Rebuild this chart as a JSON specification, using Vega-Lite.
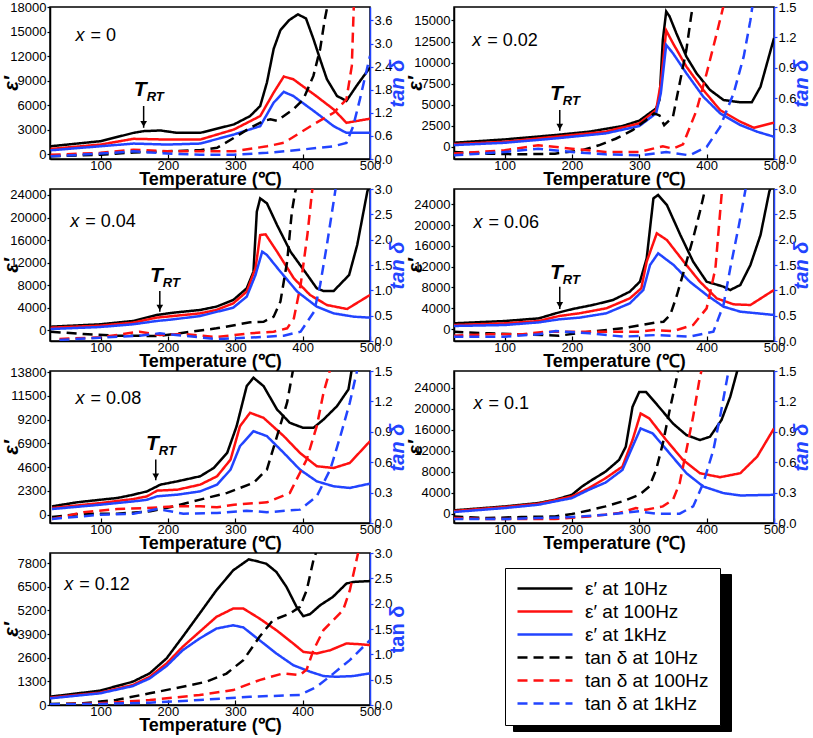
{
"$schema":"https://vega.github.io/schema/vega-lite/v6.json",
"padding":{"left":0,"top":0,"right":0,"bottom":0},
"config":{
 "font":"Liberation Sans",
 "view":{"stroke":"black","strokeWidth":1.5},
 "axis":{"grid":false,"labelFont":"Liberation Sans","labelFontSize":13,"labelColor":"black","domainColor":"black","domainWidth":1.5,"tickColor":"black","tickWidth":1.2,"tickSize":3,"labelPadding":1,"labelFlush":false,"labelOverlap":false,"titleFont":"Liberation Sans","titleFontWeight":"bold","titleColor":"black"},
 "axisX":{"labelPadding":5,"tickSize":-5,"titleFontSize":18,"titlePadding":-2},
 "range":{"category":["black","#ff1010","#2244ff","black","#ff1010","#2244ff"]}
},
"datasets":{
"lab":[
 {"p":0,"T":63,"v":13900,"b":"= 0"},
 {"p":1,"T":52,"v":11980,"b":"= 0.02"},
 {"p":2,"T":55,"v":18380,"b":"= 0.04"},
 {"p":3,"T":54,"v":19380,"b":"= 0.06"},
 {"p":4,"T":63,"v":10670,"b":"= 0.08"},
 {"p":5,"T":54,"v":20070,"b":"= 0.1"},
 {"p":6,"T":46,"v":6340,"b":"= 0.12"}
],
"trt":[
 {"p":0,"T":164,"v1":5900,"v2":3240,"vt":7130},
 {"p":1,"T":182,"v1":4365,"v2":1905,"vt":5555},
 {"p":2,"T":188,"v1":6975,"v2":3310,"vt":8630},
 {"p":3,"T":182,"v1":8150,"v2":3850,"vt":9625},
 {"p":4,"T":182,"v1":5330,"v2":3330,"vt":6240}
],
"d":[
{"p":0,"s":"e10","T":26,"v":984},{"p":0,"s":"e10","T":100,"v":1600},{"p":0,"s":"e10","T":149,"v":2620},{"p":0,"s":"e10","T":164,"v":2830},{"p":0,"s":"e10","T":189,"v":2910},{"p":0,"s":"e10","T":214,"v":2620},{"p":0,"s":"e10","T":248,"v":2620},{"p":0,"s":"e10","T":298,"v":3650},{"p":0,"s":"e10","T":322,"v":4670},{"p":0,"s":"e10","T":337,"v":5900},{"p":0,"s":"e10","T":347,"v":8770},{"p":0,"s":"e10","T":357,"v":12880},{"p":0,"s":"e10","T":367,"v":15170},{"p":0,"s":"e10","T":380,"v":16400},{"p":0,"s":"e10","T":393,"v":17100},{"p":0,"s":"e10","T":405,"v":16600},{"p":0,"s":"e10","T":416,"v":14100},{"p":0,"s":"e10","T":426,"v":11600},{"p":0,"s":"e10","T":436,"v":9180},{"p":0,"s":"e10","T":451,"v":7130},{"p":0,"s":"e10","T":465,"v":6520},{"p":0,"s":"e10","T":480,"v":8360},{"p":0,"s":"e10","T":500,"v":10620},
{"p":0,"s":"e100","T":26,"v":656},{"p":0,"s":"e100","T":100,"v":1190},{"p":0,"s":"e100","T":149,"v":1890},{"p":0,"s":"e100","T":199,"v":1800},{"p":0,"s":"e100","T":248,"v":1800},{"p":0,"s":"e100","T":298,"v":3030},{"p":0,"s":"e100","T":337,"v":4670},{"p":0,"s":"e100","T":357,"v":7540},{"p":0,"s":"e100","T":372,"v":9500},{"p":0,"s":"e100","T":386,"v":9180},{"p":0,"s":"e100","T":420,"v":7130},{"p":0,"s":"e100","T":446,"v":5490},{"p":0,"s":"e100","T":465,"v":3850},{"p":0,"s":"e100","T":500,"v":4350},
{"p":0,"s":"e1k","T":26,"v":490},{"p":0,"s":"e1k","T":100,"v":984},{"p":0,"s":"e1k","T":149,"v":1310},{"p":0,"s":"e1k","T":199,"v":1190},{"p":0,"s":"e1k","T":248,"v":1310},{"p":0,"s":"e1k","T":298,"v":2420},{"p":0,"s":"e1k","T":337,"v":3440},{"p":0,"s":"e1k","T":357,"v":6310},{"p":0,"s":"e1k","T":372,"v":7630},{"p":0,"s":"e1k","T":386,"v":7130},{"p":0,"s":"e1k","T":420,"v":5080},{"p":0,"s":"e1k","T":446,"v":3440},{"p":0,"s":"e1k","T":465,"v":2620},{"p":0,"s":"e1k","T":500,"v":2620},
{"p":0,"s":"t10","T":26,"v":0.07},{"p":0,"s":"t10","T":100,"v":0.11},{"p":0,"s":"t10","T":149,"v":0.17},{"p":0,"s":"t10","T":199,"v":0.2},{"p":0,"s":"t10","T":248,"v":0.23},{"p":0,"s":"t10","T":273,"v":0.29},{"p":0,"s":"t10","T":298,"v":0.55},{"p":0,"s":"t10","T":322,"v":0.81},{"p":0,"s":"t10","T":342,"v":0.99},{"p":0,"s":"t10","T":352,"v":1.03},{"p":0,"s":"t10","T":362,"v":0.99},{"p":0,"s":"t10","T":386,"v":1.29},{"p":0,"s":"t10","T":401,"v":1.55},{"p":0,"s":"t10","T":416,"v":2.16},{"p":0,"s":"t10","T":426,"v":2.86},{"p":0,"s":"t10","T":433,"v":3.64},{"p":0,"s":"t10","T":438,"v":4.08},
{"p":0,"s":"t100","T":26,"v":0.11},{"p":0,"s":"t100","T":100,"v":0.16},{"p":0,"s":"t100","T":149,"v":0.24},{"p":0,"s":"t100","T":199,"v":0.2},{"p":0,"s":"t100","T":248,"v":0.2},{"p":0,"s":"t100","T":298,"v":0.2},{"p":0,"s":"t100","T":347,"v":0.33},{"p":0,"s":"t100","T":372,"v":0.42},{"p":0,"s":"t100","T":396,"v":0.68},{"p":0,"s":"t100","T":420,"v":0.94},{"p":0,"s":"t100","T":446,"v":1.2},{"p":0,"s":"t100","T":465,"v":1.55},{"p":0,"s":"t100","T":473,"v":2.42},{"p":0,"s":"t100","T":476,"v":4.0},
{"p":0,"s":"t1k","T":26,"v":0.07},{"p":0,"s":"t1k","T":100,"v":0.14},{"p":0,"s":"t1k","T":149,"v":0.2},{"p":0,"s":"t1k","T":199,"v":0.14},{"p":0,"s":"t1k","T":248,"v":0.11},{"p":0,"s":"t1k","T":298,"v":0.11},{"p":0,"s":"t1k","T":347,"v":0.16},{"p":0,"s":"t1k","T":396,"v":0.24},{"p":0,"s":"t1k","T":446,"v":0.33},{"p":0,"s":"t1k","T":465,"v":0.42},{"p":0,"s":"t1k","T":475,"v":0.85},{"p":0,"s":"t1k","T":485,"v":1.55},{"p":0,"s":"t1k","T":500,"v":2.68},

{"p":1,"s":"e10","T":24,"v":476},{"p":1,"s":"e10","T":100,"v":873},{"p":1,"s":"e10","T":175,"v":1390},{"p":1,"s":"e10","T":225,"v":1790},{"p":1,"s":"e10","T":275,"v":2460},{"p":1,"s":"e10","T":300,"v":3100},{"p":1,"s":"e10","T":325,"v":4560},{"p":1,"s":"e10","T":330,"v":5560},{"p":1,"s":"e10","T":335,"v":12700},{"p":1,"s":"e10","T":340,"v":16070},{"p":1,"s":"e10","T":345,"v":15480},{"p":1,"s":"e10","T":355,"v":13490},{"p":1,"s":"e10","T":370,"v":10710},{"p":1,"s":"e10","T":385,"v":8730},{"p":1,"s":"e10","T":405,"v":6750},{"p":1,"s":"e10","T":425,"v":5560},{"p":1,"s":"e10","T":450,"v":5280},{"p":1,"s":"e10","T":467,"v":5280},{"p":1,"s":"e10","T":480,"v":7140},{"p":1,"s":"e10","T":500,"v":12900},
{"p":1,"s":"e100","T":24,"v":317},{"p":1,"s":"e100","T":100,"v":595},{"p":1,"s":"e100","T":175,"v":1190},{"p":1,"s":"e100","T":250,"v":1790},{"p":1,"s":"e100","T":300,"v":2780},{"p":1,"s":"e100","T":325,"v":4360},{"p":1,"s":"e100","T":332,"v":7540},{"p":1,"s":"e100","T":340,"v":13810},{"p":1,"s":"e100","T":350,"v":12300},{"p":1,"s":"e100","T":370,"v":9520},{"p":1,"s":"e100","T":395,"v":6750},{"p":1,"s":"e100","T":420,"v":4360},{"p":1,"s":"e100","T":450,"v":2980},{"p":1,"s":"e100","T":470,"v":2260},{"p":1,"s":"e100","T":500,"v":2860},
{"p":1,"s":"e1k","T":24,"v":200},{"p":1,"s":"e1k","T":100,"v":476},{"p":1,"s":"e1k","T":175,"v":990},{"p":1,"s":"e1k","T":250,"v":1590},{"p":1,"s":"e1k","T":300,"v":2460},{"p":1,"s":"e1k","T":325,"v":3970},{"p":1,"s":"e1k","T":332,"v":6350},{"p":1,"s":"e1k","T":340,"v":12100},{"p":1,"s":"e1k","T":350,"v":11110},{"p":1,"s":"e1k","T":370,"v":8730},{"p":1,"s":"e1k","T":395,"v":5950},{"p":1,"s":"e1k","T":420,"v":3970},{"p":1,"s":"e1k","T":450,"v":2580},{"p":1,"s":"e1k","T":475,"v":1790},{"p":1,"s":"e1k","T":500,"v":1190},
{"p":1,"s":"t10","T":24,"v":0.069},{"p":1,"s":"t10","T":75,"v":0.053},{"p":1,"s":"t10","T":125,"v":0.046},{"p":1,"s":"t10","T":175,"v":0.053},{"p":1,"s":"t10","T":215,"v":0.086},{"p":1,"s":"t10","T":240,"v":0.135},{"p":1,"s":"t10","T":265,"v":0.2},{"p":1,"s":"t10","T":290,"v":0.284},{"p":1,"s":"t10","T":310,"v":0.383},{"p":1,"s":"t10","T":322,"v":0.45},{"p":1,"s":"t10","T":330,"v":0.43},{"p":1,"s":"t10","T":337,"v":0.334},{"p":1,"s":"t10","T":350,"v":0.416},{"p":1,"s":"t10","T":360,"v":0.747},{"p":1,"s":"t10","T":370,"v":1.08},{"p":1,"s":"t10","T":377,"v":1.41},{"p":1,"s":"t10","T":381,"v":1.57},
{"p":1,"s":"t100","T":24,"v":0.053},{"p":1,"s":"t100","T":100,"v":0.086},{"p":1,"s":"t100","T":150,"v":0.135},{"p":1,"s":"t100","T":165,"v":0.126},{"p":1,"s":"t100","T":200,"v":0.102},{"p":1,"s":"t100","T":250,"v":0.069},{"p":1,"s":"t100","T":300,"v":0.069},{"p":1,"s":"t100","T":335,"v":0.126},{"p":1,"s":"t100","T":350,"v":0.102},{"p":1,"s":"t100","T":365,"v":0.145},{"p":1,"s":"t100","T":385,"v":0.48},{"p":1,"s":"t100","T":400,"v":0.846},{"p":1,"s":"t100","T":415,"v":1.24},{"p":1,"s":"t100","T":425,"v":1.51},
{"p":1,"s":"t1k","T":24,"v":0.036},{"p":1,"s":"t1k","T":100,"v":0.069},{"p":1,"s":"t1k","T":150,"v":0.102},{"p":1,"s":"t1k","T":200,"v":0.069},{"p":1,"s":"t1k","T":250,"v":0.046},{"p":1,"s":"t1k","T":300,"v":0.036},{"p":1,"s":"t1k","T":340,"v":0.069},{"p":1,"s":"t1k","T":375,"v":0.036},{"p":1,"s":"t1k","T":400,"v":0.119},{"p":1,"s":"t1k","T":420,"v":0.317},{"p":1,"s":"t1k","T":440,"v":0.647},{"p":1,"s":"t1k","T":455,"v":1.01},{"p":1,"s":"t1k","T":465,"v":1.37},{"p":1,"s":"t1k","T":468,"v":1.51},

{"p":2,"s":"e10","T":26,"v":650},{"p":2,"s":"e10","T":99,"v":1064},{"p":2,"s":"e10","T":148,"v":1655},{"p":2,"s":"e10","T":183,"v":2720},{"p":2,"s":"e10","T":208,"v":3130},{"p":2,"s":"e10","T":248,"v":3610},{"p":2,"s":"e10","T":272,"v":4200},{"p":2,"s":"e10","T":297,"v":5380},{"p":2,"s":"e10","T":317,"v":7450},{"p":2,"s":"e10","T":327,"v":10400},{"p":2,"s":"e10","T":332,"v":21040},{"p":2,"s":"e10","T":337,"v":23400},{"p":2,"s":"e10","T":347,"v":22520},{"p":2,"s":"e10","T":362,"v":18680},{"p":2,"s":"e10","T":382,"v":13950},{"p":2,"s":"e10","T":407,"v":9810},{"p":2,"s":"e10","T":421,"v":7450},{"p":2,"s":"e10","T":431,"v":6970},{"p":2,"s":"e10","T":446,"v":6970},{"p":2,"s":"e10","T":469,"v":9810},{"p":2,"s":"e10","T":481,"v":15130},{"p":2,"s":"e10","T":496,"v":24590},{"p":2,"s":"e10","T":499,"v":25770},
{"p":2,"s":"e100","T":26,"v":473},{"p":2,"s":"e100","T":99,"v":828},{"p":2,"s":"e100","T":148,"v":1360},{"p":2,"s":"e100","T":183,"v":2250},{"p":2,"s":"e100","T":208,"v":2540},{"p":2,"s":"e100","T":248,"v":3010},{"p":2,"s":"e100","T":272,"v":3610},{"p":2,"s":"e100","T":297,"v":4790},{"p":2,"s":"e100","T":317,"v":6860},{"p":2,"s":"e100","T":330,"v":10990},{"p":2,"s":"e100","T":337,"v":16900},{"p":2,"s":"e100","T":345,"v":17020},{"p":2,"s":"e100","T":362,"v":13950},{"p":2,"s":"e100","T":387,"v":9220},{"p":2,"s":"e100","T":411,"v":6270},{"p":2,"s":"e100","T":436,"v":4490},{"p":2,"s":"e100","T":466,"v":3780},{"p":2,"s":"e100","T":500,"v":6270},
{"p":2,"s":"e1k","T":26,"v":236},{"p":2,"s":"e1k","T":99,"v":591},{"p":2,"s":"e1k","T":148,"v":1064},{"p":2,"s":"e1k","T":183,"v":1655},{"p":2,"s":"e1k","T":208,"v":1950},{"p":2,"s":"e1k","T":248,"v":2540},{"p":2,"s":"e1k","T":297,"v":4020},{"p":2,"s":"e1k","T":317,"v":5970},{"p":2,"s":"e1k","T":330,"v":9810},{"p":2,"s":"e1k","T":340,"v":13950},{"p":2,"s":"e1k","T":347,"v":13360},{"p":2,"s":"e1k","T":367,"v":10400},{"p":2,"s":"e1k","T":392,"v":6860},{"p":2,"s":"e1k","T":421,"v":4200},{"p":2,"s":"e1k","T":446,"v":3010},{"p":2,"s":"e1k","T":476,"v":2420},{"p":2,"s":"e1k","T":500,"v":2250},
{"p":2,"s":"t10","T":26,"v":0.184},{"p":2,"s":"t10","T":74,"v":0.138},{"p":2,"s":"t10","T":123,"v":0.105},{"p":2,"s":"t10","T":188,"v":0.099},{"p":2,"s":"t10","T":223,"v":0.164},{"p":2,"s":"t10","T":272,"v":0.25},{"p":2,"s":"t10","T":322,"v":0.368},{"p":2,"s":"t10","T":342,"v":0.38},{"p":2,"s":"t10","T":357,"v":0.48},{"p":2,"s":"t10","T":367,"v":0.776},{"p":2,"s":"t10","T":377,"v":1.566},{"p":2,"s":"t10","T":384,"v":2.55},{"p":2,"s":"t10","T":389,"v":2.95},{"p":2,"s":"t10","T":392,"v":3.08},
{"p":2,"s":"t100","T":39,"v":0.04},{"p":2,"s":"t100","T":99,"v":0.072},{"p":2,"s":"t100","T":158,"v":0.184},{"p":2,"s":"t100","T":188,"v":0.118},{"p":2,"s":"t100","T":223,"v":0.138},{"p":2,"s":"t100","T":272,"v":0.079},{"p":2,"s":"t100","T":322,"v":0.151},{"p":2,"s":"t100","T":357,"v":0.184},{"p":2,"s":"t100","T":377,"v":0.25},{"p":2,"s":"t100","T":387,"v":0.447},{"p":2,"s":"t100","T":397,"v":1.105},{"p":2,"s":"t100","T":407,"v":2.09},{"p":2,"s":"t100","T":414,"v":2.95},{"p":2,"s":"t100","T":416,"v":3.1},
{"p":2,"s":"t1k","T":39,"v":0.02},{"p":2,"s":"t1k","T":99,"v":0.066},{"p":2,"s":"t1k","T":158,"v":0.105},{"p":2,"s":"t1k","T":188,"v":0.151},{"p":2,"s":"t1k","T":223,"v":0.105},{"p":2,"s":"t1k","T":272,"v":0.039},{"p":2,"s":"t1k","T":322,"v":0.066},{"p":2,"s":"t1k","T":372,"v":0.105},{"p":2,"s":"t1k","T":397,"v":0.184},{"p":2,"s":"t1k","T":417,"v":0.579},{"p":2,"s":"t1k","T":426,"v":1.105},{"p":2,"s":"t1k","T":436,"v":1.895},{"p":2,"s":"t1k","T":446,"v":2.75},{"p":2,"s":"t1k","T":449,"v":3.01},

{"p":3,"s":"e10","T":24,"v":1090},{"p":3,"s":"e10","T":101,"v":1540},{"p":3,"s":"e10","T":151,"v":2050},{"p":3,"s":"e10","T":176,"v":3020},{"p":3,"s":"e10","T":201,"v":3850},{"p":3,"s":"e10","T":231,"v":4620},{"p":3,"s":"e10","T":261,"v":5580},{"p":3,"s":"e10","T":286,"v":7190},{"p":3,"s":"e10","T":301,"v":9110},{"p":3,"s":"e10","T":311,"v":13600},{"p":3,"s":"e10","T":321,"v":25150},{"p":3,"s":"e10","T":328,"v":25800},{"p":3,"s":"e10","T":341,"v":23870},{"p":3,"s":"e10","T":361,"v":18100},{"p":3,"s":"e10","T":380,"v":12960},{"p":3,"s":"e10","T":400,"v":9110},{"p":3,"s":"e10","T":425,"v":8150},{"p":3,"s":"e10","T":435,"v":7510},{"p":3,"s":"e10","T":450,"v":8470},{"p":3,"s":"e10","T":465,"v":12320},{"p":3,"s":"e10","T":480,"v":18100},{"p":3,"s":"e10","T":493,"v":26440},{"p":3,"s":"e10","T":496,"v":27500},
{"p":3,"s":"e100","T":24,"v":770},{"p":3,"s":"e100","T":101,"v":1090},{"p":3,"s":"e100","T":151,"v":1540},{"p":3,"s":"e100","T":181,"v":2500},{"p":3,"s":"e100","T":211,"v":3020},{"p":3,"s":"e100","T":251,"v":3980},{"p":3,"s":"e100","T":286,"v":5900},{"p":3,"s":"e100","T":303,"v":7830},{"p":3,"s":"e100","T":311,"v":12960},{"p":3,"s":"e100","T":326,"v":18420},{"p":3,"s":"e100","T":341,"v":17130},{"p":3,"s":"e100","T":366,"v":12960},{"p":3,"s":"e100","T":390,"v":9110},{"p":3,"s":"e100","T":415,"v":5900},{"p":3,"s":"e100","T":440,"v":4750},{"p":3,"s":"e100","T":465,"v":4620},{"p":3,"s":"e100","T":500,"v":7510},
{"p":3,"s":"e1k","T":24,"v":580},{"p":3,"s":"e1k","T":101,"v":770},{"p":3,"s":"e1k","T":151,"v":1280},{"p":3,"s":"e1k","T":181,"v":1860},{"p":3,"s":"e1k","T":211,"v":2180},{"p":3,"s":"e1k","T":251,"v":3020},{"p":3,"s":"e1k","T":286,"v":4940},{"p":3,"s":"e1k","T":306,"v":7510},{"p":3,"s":"e1k","T":316,"v":12320},{"p":3,"s":"e1k","T":328,"v":14570},{"p":3,"s":"e1k","T":351,"v":12320},{"p":3,"s":"e1k","T":375,"v":9110},{"p":3,"s":"e1k","T":400,"v":6550},{"p":3,"s":"e1k","T":425,"v":4300},{"p":3,"s":"e1k","T":450,"v":3340},{"p":3,"s":"e1k","T":500,"v":2700},
{"p":3,"s":"t10","T":24,"v":0.184},{"p":3,"s":"t10","T":77,"v":0.151},{"p":3,"s":"t10","T":127,"v":0.132},{"p":3,"s":"t10","T":181,"v":0.105},{"p":3,"s":"t10","T":226,"v":0.184},{"p":3,"s":"t10","T":276,"v":0.25},{"p":3,"s":"t10","T":326,"v":0.368},{"p":3,"s":"t10","T":336,"v":0.38},{"p":3,"s":"t10","T":346,"v":0.513},{"p":3,"s":"t10","T":356,"v":0.908},{"p":3,"s":"t10","T":366,"v":1.37},{"p":3,"s":"t10","T":380,"v":2.03},{"p":3,"s":"t10","T":390,"v":2.55},{"p":3,"s":"t10","T":398,"v":3.01},
{"p":3,"s":"t100","T":24,"v":0.105},{"p":3,"s":"t100","T":77,"v":0.132},{"p":3,"s":"t100","T":127,"v":0.132},{"p":3,"s":"t100","T":161,"v":0.184},{"p":3,"s":"t100","T":201,"v":0.184},{"p":3,"s":"t100","T":251,"v":0.184},{"p":3,"s":"t100","T":301,"v":0.184},{"p":3,"s":"t100","T":321,"v":0.217},{"p":3,"s":"t100","T":351,"v":0.197},{"p":3,"s":"t100","T":380,"v":0.316},{"p":3,"s":"t100","T":400,"v":0.645},{"p":3,"s":"t100","T":413,"v":1.43},{"p":3,"s":"t100","T":418,"v":2.22},{"p":3,"s":"t100","T":423,"v":3.01},
{"p":3,"s":"t1k","T":24,"v":0.086},{"p":3,"s":"t1k","T":101,"v":0.086},{"p":3,"s":"t1k","T":151,"v":0.132},{"p":3,"s":"t1k","T":176,"v":0.197},{"p":3,"s":"t1k","T":226,"v":0.151},{"p":3,"s":"t1k","T":276,"v":0.086},{"p":3,"s":"t1k","T":326,"v":0.118},{"p":3,"s":"t1k","T":375,"v":0.086},{"p":3,"s":"t1k","T":410,"v":0.184},{"p":3,"s":"t1k","T":425,"v":0.71},{"p":3,"s":"t1k","T":435,"v":1.43},{"p":3,"s":"t1k","T":448,"v":2.29},{"p":3,"s":"t1k","T":458,"v":3.01},

{"p":4,"s":"e10","T":28,"v":808},{"p":4,"s":"e10","T":65,"v":1200},{"p":4,"s":"e10","T":100,"v":1450},{"p":4,"s":"e10","T":125,"v":1620},{"p":4,"s":"e10","T":149,"v":1940},{"p":4,"s":"e10","T":169,"v":2260},{"p":4,"s":"e10","T":189,"v":2910},{"p":4,"s":"e10","T":214,"v":3230},{"p":4,"s":"e10","T":248,"v":3720},{"p":4,"s":"e10","T":268,"v":4520},{"p":4,"s":"e10","T":288,"v":5980},{"p":4,"s":"e10","T":302,"v":8560},{"p":4,"s":"e10","T":317,"v":12440},{"p":4,"s":"e10","T":327,"v":13250},{"p":4,"s":"e10","T":342,"v":12440},{"p":4,"s":"e10","T":362,"v":10180},{"p":4,"s":"e10","T":381,"v":8890},{"p":4,"s":"e10","T":401,"v":8400},{"p":4,"s":"e10","T":416,"v":8400},{"p":4,"s":"e10","T":431,"v":9210},{"p":4,"s":"e10","T":451,"v":10500},{"p":4,"s":"e10","T":468,"v":12120},{"p":4,"s":"e10","T":473,"v":14060},
{"p":4,"s":"e100","T":28,"v":646},{"p":4,"s":"e100","T":100,"v":1130},{"p":4,"s":"e100","T":149,"v":1520},{"p":4,"s":"e100","T":169,"v":1780},{"p":4,"s":"e100","T":184,"v":2330},{"p":4,"s":"e100","T":214,"v":2420},{"p":4,"s":"e100","T":248,"v":2910},{"p":4,"s":"e100","T":273,"v":3720},{"p":4,"s":"e100","T":293,"v":5330},{"p":4,"s":"e100","T":307,"v":8560},{"p":4,"s":"e100","T":322,"v":9860},{"p":4,"s":"e100","T":342,"v":9370},{"p":4,"s":"e100","T":372,"v":7600},{"p":4,"s":"e100","T":396,"v":5980},{"p":4,"s":"e100","T":421,"v":4690},{"p":4,"s":"e100","T":446,"v":4520},{"p":4,"s":"e100","T":470,"v":5010},{"p":4,"s":"e100","T":500,"v":7110},
{"p":4,"s":"e1k","T":28,"v":550},{"p":4,"s":"e1k","T":100,"v":970},{"p":4,"s":"e1k","T":149,"v":1290},{"p":4,"s":"e1k","T":169,"v":1450},{"p":4,"s":"e1k","T":184,"v":1780},{"p":4,"s":"e1k","T":214,"v":1940},{"p":4,"s":"e1k","T":248,"v":2260},{"p":4,"s":"e1k","T":273,"v":2910},{"p":4,"s":"e1k","T":293,"v":4360},{"p":4,"s":"e1k","T":307,"v":6630},{"p":4,"s":"e1k","T":327,"v":8080},{"p":4,"s":"e1k","T":347,"v":7600},{"p":4,"s":"e1k","T":372,"v":5980},{"p":4,"s":"e1k","T":396,"v":4360},{"p":4,"s":"e1k","T":421,"v":3230},{"p":4,"s":"e1k","T":446,"v":2750},{"p":4,"s":"e1k","T":470,"v":2590},{"p":4,"s":"e1k","T":500,"v":3010},
{"p":4,"s":"t10","T":28,"v":0.059},{"p":4,"s":"t10","T":75,"v":0.092},{"p":4,"s":"t10","T":125,"v":0.092},{"p":4,"s":"t10","T":174,"v":0.115},{"p":4,"s":"t10","T":209,"v":0.165},{"p":4,"s":"t10","T":248,"v":0.231},{"p":4,"s":"t10","T":288,"v":0.297},{"p":4,"s":"t10","T":327,"v":0.396},{"p":4,"s":"t10","T":347,"v":0.528},{"p":4,"s":"t10","T":362,"v":0.857},{"p":4,"s":"t10","T":377,"v":1.19},{"p":4,"s":"t10","T":386,"v":1.52},
{"p":4,"s":"t100","T":28,"v":0.04},{"p":4,"s":"t100","T":75,"v":0.106},{"p":4,"s":"t100","T":125,"v":0.138},{"p":4,"s":"t100","T":169,"v":0.148},{"p":4,"s":"t100","T":214,"v":0.165},{"p":4,"s":"t100","T":248,"v":0.165},{"p":4,"s":"t100","T":273,"v":0.155},{"p":4,"s":"t100","T":298,"v":0.181},{"p":4,"s":"t100","T":347,"v":0.204},{"p":4,"s":"t100","T":381,"v":0.297},{"p":4,"s":"t100","T":406,"v":0.626},{"p":4,"s":"t100","T":421,"v":0.956},{"p":4,"s":"t100","T":431,"v":1.286},{"p":4,"s":"t100","T":441,"v":1.52},
{"p":4,"s":"t1k","T":28,"v":0.04},{"p":4,"s":"t1k","T":100,"v":0.082},{"p":4,"s":"t1k","T":149,"v":0.092},{"p":4,"s":"t1k","T":184,"v":0.138},{"p":4,"s":"t1k","T":223,"v":0.092},{"p":4,"s":"t1k","T":273,"v":0.099},{"p":4,"s":"t1k","T":317,"v":0.122},{"p":4,"s":"t1k","T":347,"v":0.106},{"p":4,"s":"t1k","T":396,"v":0.132},{"p":4,"s":"t1k","T":421,"v":0.264},{"p":4,"s":"t1k","T":441,"v":0.528},{"p":4,"s":"t1k","T":456,"v":0.857},{"p":4,"s":"t1k","T":470,"v":1.187},{"p":4,"s":"t1k","T":480,"v":1.48},{"p":4,"s":"t1k","T":482,"v":1.55},

{"p":5,"s":"e10","T":24,"v":633},{"p":5,"s":"e10","T":100,"v":1390},{"p":5,"s":"e10","T":150,"v":2030},{"p":5,"s":"e10","T":175,"v":2660},{"p":5,"s":"e10","T":200,"v":3610},{"p":5,"s":"e10","T":215,"v":5190},{"p":5,"s":"e10","T":230,"v":6460},{"p":5,"s":"e10","T":250,"v":8040},{"p":5,"s":"e10","T":270,"v":10260},{"p":5,"s":"e10","T":280,"v":12790},{"p":5,"s":"e10","T":290,"v":20390},{"p":5,"s":"e10","T":300,"v":23240},{"p":5,"s":"e10","T":310,"v":23240},{"p":5,"s":"e10","T":325,"v":21020},{"p":5,"s":"e10","T":350,"v":17220},{"p":5,"s":"e10","T":370,"v":15010},{"p":5,"s":"e10","T":390,"v":14060},{"p":5,"s":"e10","T":405,"v":14690},{"p":5,"s":"e10","T":422,"v":17860},{"p":5,"s":"e10","T":435,"v":22290},{"p":5,"s":"e10","T":445,"v":27040},{"p":5,"s":"e10","T":447,"v":28000},
{"p":5,"s":"e100","T":24,"v":507},{"p":5,"s":"e100","T":100,"v":1270},{"p":5,"s":"e100","T":150,"v":1900},{"p":5,"s":"e100","T":200,"v":3290},{"p":5,"s":"e100","T":225,"v":4880},{"p":5,"s":"e100","T":250,"v":6780},{"p":5,"s":"e100","T":275,"v":8990},{"p":5,"s":"e100","T":290,"v":14060},{"p":5,"s":"e100","T":302,"v":19120},{"p":5,"s":"e100","T":315,"v":18170},{"p":5,"s":"e100","T":340,"v":14060},{"p":5,"s":"e100","T":365,"v":10260},{"p":5,"s":"e100","T":390,"v":7730},{"p":5,"s":"e100","T":420,"v":6970},{"p":5,"s":"e100","T":450,"v":7730},{"p":5,"s":"e100","T":475,"v":10890},{"p":5,"s":"e100","T":500,"v":16270},
{"p":5,"s":"e1k","T":24,"v":317},{"p":5,"s":"e1k","T":100,"v":1080},{"p":5,"s":"e1k","T":150,"v":1710},{"p":5,"s":"e1k","T":200,"v":2980},{"p":5,"s":"e1k","T":225,"v":4560},{"p":5,"s":"e1k","T":250,"v":5950},{"p":5,"s":"e1k","T":275,"v":8360},{"p":5,"s":"e1k","T":290,"v":12790},{"p":5,"s":"e1k","T":302,"v":16270},{"p":5,"s":"e1k","T":320,"v":15320},{"p":5,"s":"e1k","T":345,"v":11520},{"p":5,"s":"e1k","T":370,"v":7730},{"p":5,"s":"e1k","T":395,"v":5190},{"p":5,"s":"e1k","T":425,"v":3930},{"p":5,"s":"e1k","T":450,"v":3480},{"p":5,"s":"e1k","T":500,"v":3610},
{"p":5,"s":"t10","T":24,"v":0.065},{"p":5,"s":"t10","T":75,"v":0.049},{"p":5,"s":"t10","T":125,"v":0.059},{"p":5,"s":"t10","T":175,"v":0.065},{"p":5,"s":"t10","T":200,"v":0.088},{"p":5,"s":"t10","T":225,"v":0.124},{"p":5,"s":"t10","T":250,"v":0.164},{"p":5,"s":"t10","T":275,"v":0.213},{"p":5,"s":"t10","T":300,"v":0.278},{"p":5,"s":"t10","T":315,"v":0.36},{"p":5,"s":"t10","T":325,"v":0.524},{"p":5,"s":"t10","T":335,"v":0.786},{"p":5,"s":"t10","T":345,"v":1.11},{"p":5,"s":"t10","T":355,"v":1.41},{"p":5,"s":"t10","T":358,"v":1.52},
{"p":5,"s":"t100","T":24,"v":0.049},{"p":5,"s":"t100","T":75,"v":0.039},{"p":5,"s":"t100","T":125,"v":0.039},{"p":5,"s":"t100","T":175,"v":0.039},{"p":5,"s":"t100","T":225,"v":0.065},{"p":5,"s":"t100","T":270,"v":0.098},{"p":5,"s":"t100","T":295,"v":0.147},{"p":5,"s":"t100","T":310,"v":0.131},{"p":5,"s":"t100","T":335,"v":0.164},{"p":5,"s":"t100","T":350,"v":0.229},{"p":5,"s":"t100","T":360,"v":0.393},{"p":5,"s":"t100","T":370,"v":0.72},{"p":5,"s":"t100","T":380,"v":1.05},{"p":5,"s":"t100","T":390,"v":1.44},{"p":5,"s":"t100","T":393,"v":1.52},
{"p":5,"s":"t1k","T":24,"v":0.039},{"p":5,"s":"t1k","T":100,"v":0.039},{"p":5,"s":"t1k","T":150,"v":0.049},{"p":5,"s":"t1k","T":200,"v":0.059},{"p":5,"s":"t1k","T":250,"v":0.082},{"p":5,"s":"t1k","T":300,"v":0.115},{"p":5,"s":"t1k","T":325,"v":0.092},{"p":5,"s":"t1k","T":360,"v":0.092},{"p":5,"s":"t1k","T":380,"v":0.164},{"p":5,"s":"t1k","T":395,"v":0.393},{"p":5,"s":"t1k","T":410,"v":0.72},{"p":5,"s":"t1k","T":420,"v":1.05},{"p":5,"s":"t1k","T":430,"v":1.41},{"p":5,"s":"t1k","T":433,"v":1.52},

{"p":6,"s":"e10","T":25,"v":457},{"p":6,"s":"e10","T":99,"v":786},{"p":6,"s":"e10","T":148,"v":1280},{"p":6,"s":"e10","T":173,"v":1740},{"p":6,"s":"e10","T":198,"v":2560},{"p":6,"s":"e10","T":222,"v":3750},{"p":6,"s":"e10","T":247,"v":5020},{"p":6,"s":"e10","T":272,"v":6300},{"p":6,"s":"e10","T":297,"v":7400},{"p":6,"s":"e10","T":320,"v":8000},{"p":6,"s":"e10","T":331,"v":7910},{"p":6,"s":"e10","T":346,"v":7760},{"p":6,"s":"e10","T":361,"v":7310},{"p":6,"s":"e10","T":376,"v":6490},{"p":6,"s":"e10","T":391,"v":5390},{"p":6,"s":"e10","T":401,"v":4880},{"p":6,"s":"e10","T":411,"v":4990},{"p":6,"s":"e10","T":426,"v":5480},{"p":6,"s":"e10","T":445,"v":5940},{"p":6,"s":"e10","T":465,"v":6670},{"p":6,"s":"e10","T":475,"v":6760},{"p":6,"s":"e10","T":500,"v":6810},
{"p":6,"s":"e100","T":25,"v":400},{"p":6,"s":"e100","T":99,"v":676},{"p":6,"s":"e100","T":148,"v":1100},{"p":6,"s":"e100","T":173,"v":1550},{"p":6,"s":"e100","T":198,"v":2280},{"p":6,"s":"e100","T":222,"v":3200},{"p":6,"s":"e100","T":247,"v":4020},{"p":6,"s":"e100","T":272,"v":4840},{"p":6,"s":"e100","T":297,"v":5300},{"p":6,"s":"e100","T":312,"v":5300},{"p":6,"s":"e100","T":336,"v":4750},{"p":6,"s":"e100","T":361,"v":4110},{"p":6,"s":"e100","T":386,"v":3380},{"p":6,"s":"e100","T":401,"v":2920},{"p":6,"s":"e100","T":421,"v":2830},{"p":6,"s":"e100","T":441,"v":3010},{"p":6,"s":"e100","T":465,"v":3380},{"p":6,"s":"e100","T":485,"v":3340},{"p":6,"s":"e100","T":500,"v":3290},
{"p":6,"s":"e1k","T":25,"v":365},{"p":6,"s":"e1k","T":99,"v":640},{"p":6,"s":"e1k","T":148,"v":1040},{"p":6,"s":"e1k","T":173,"v":1460},{"p":6,"s":"e1k","T":198,"v":2140},{"p":6,"s":"e1k","T":222,"v":3010},{"p":6,"s":"e1k","T":247,"v":3650},{"p":6,"s":"e1k","T":272,"v":4200},{"p":6,"s":"e1k","T":297,"v":4380},{"p":6,"s":"e1k","T":312,"v":4260},{"p":6,"s":"e1k","T":336,"v":3560},{"p":6,"s":"e1k","T":361,"v":2830},{"p":6,"s":"e1k","T":386,"v":2190},{"p":6,"s":"e1k","T":411,"v":1830},{"p":6,"s":"e1k","T":431,"v":1590},{"p":6,"s":"e1k","T":450,"v":1550},{"p":6,"s":"e1k","T":475,"v":1590},{"p":6,"s":"e1k","T":500,"v":1740},
{"p":6,"s":"t10","T":25,"v":0.02},{"p":6,"s":"t10","T":74,"v":0.033},{"p":6,"s":"t10","T":123,"v":0.098},{"p":6,"s":"t10","T":173,"v":0.23},{"p":6,"s":"t10","T":222,"v":0.36},{"p":6,"s":"t10","T":257,"v":0.46},{"p":6,"s":"t10","T":287,"v":0.62},{"p":6,"s":"t10","T":312,"v":0.886},{"p":6,"s":"t10","T":336,"v":1.346},{"p":6,"s":"t10","T":356,"v":1.674},{"p":6,"s":"t10","T":381,"v":1.805},{"p":6,"s":"t10","T":396,"v":1.937},{"p":6,"s":"t10","T":406,"v":2.265},{"p":6,"s":"t10","T":416,"v":2.856},{"p":6,"s":"t10","T":421,"v":3.05},
{"p":6,"s":"t100","T":25,"v":0.013},{"p":6,"s":"t100","T":99,"v":0.033},{"p":6,"s":"t100","T":173,"v":0.098},{"p":6,"s":"t100","T":247,"v":0.197},{"p":6,"s":"t100","T":297,"v":0.295},{"p":6,"s":"t100","T":336,"v":0.492},{"p":6,"s":"t100","T":371,"v":0.624},{"p":6,"s":"t100","T":396,"v":0.59},{"p":6,"s":"t100","T":406,"v":0.7},{"p":6,"s":"t100","T":416,"v":1.08},{"p":6,"s":"t100","T":431,"v":1.48},{"p":6,"s":"t100","T":445,"v":1.67},{"p":6,"s":"t100","T":460,"v":1.87},{"p":6,"s":"t100","T":470,"v":2.26},{"p":6,"s":"t100","T":480,"v":2.86},{"p":6,"s":"t100","T":484,"v":3.1},
{"p":6,"s":"t1k","T":25,"v":0.013},{"p":6,"s":"t1k","T":99,"v":0.02},{"p":6,"s":"t1k","T":173,"v":0.046},{"p":6,"s":"t1k","T":247,"v":0.098},{"p":6,"s":"t1k","T":322,"v":0.164},{"p":6,"s":"t1k","T":396,"v":0.197},{"p":6,"s":"t1k","T":421,"v":0.361},{"p":6,"s":"t1k","T":446,"v":0.624},{"p":6,"s":"t1k","T":470,"v":0.886},{"p":6,"s":"t1k","T":500,"v":1.28}
]},
"columns":2,
"spacing":{"row":30,"column":84},
"bounds":"flush",
"concat":[
{"width":320,"height":152,"layer":[
 {"layer":[
  {"data":{"name":"d"},"transform":[{"filter":"datum.p==0 && indexof(datum.s,'e')==0"}],"mark":{"type":"line","clip":true,"strokeWidth":2.5},
   "encoding":{"x":{"field":"T","type":"quantitative","scale":{"domain":[25,500],"nice":false},"axis":{"values":[100,200,300,400,500],"tickCount":10,"title":"Temperature (℃)","labelOverlap":false}},
    "y":{"field":"v","type":"quantitative","scale":{"domain":[-575,18000],"nice":false,"zero":false},"axis":{"values":[0,3000,6000,9000,12000,15000,18000],"tickCount":10,"labelOverlap":false,"format":"d","title":"ε′","titleX":-39,"titleAngle":270,"titleAlign":"center","titleBaseline":"middle","titleFontSize":20,"titleFontStyle":"italic"}},
    "color":{"field":"s","type":"nominal","legend":{"title":null,"orient":"none","legendX":455,"legendY":561,"direction":"vertical","fillColor":"white","strokeColor":"black","padding":11,"symbolType":"stroke","symbolSize":3025,"symbolStrokeWidth":2.5,"clipHeight":19,"rowPadding":3,"labelFontSize":19,"labelFont":"Liberation Sans","labelColor":"black","labelOffset":11,"labelLimit":300,"zindex":2,"labelExpr":"datum.value=='e10'?'ε′ at 10Hz':datum.value=='e100'?'ε′ at 100Hz':datum.value=='e1k'?'ε′ at 1kHz':datum.value=='t10'?'tan δ at 10Hz':datum.value=='t100'?'tan δ at 100Hz':'tan δ at 1kHz'"}},
    "strokeDash":{"field":"s","type":"nominal","scale":{"range":[[1,0],[1,0],[1,0],[10,6],[10,6],[10,6]]},"legend":{"title":null,"orient":"none","legendX":455,"legendY":561,"direction":"vertical","fillColor":"white","strokeColor":"black","padding":11,"symbolType":"stroke","symbolSize":3025,"symbolStrokeWidth":2.5,"clipHeight":19,"rowPadding":3,"labelFontSize":19,"labelFont":"Liberation Sans","labelColor":"black","labelOffset":11,"labelLimit":300,"zindex":2,"labelExpr":"datum.value=='e10'?'ε′ at 10Hz':datum.value=='e100'?'ε′ at 100Hz':datum.value=='e1k'?'ε′ at 1kHz':datum.value=='t10'?'tan δ at 10Hz':datum.value=='t100'?'tan δ at 100Hz':'tan δ at 1kHz'"}}}},
  {"data":{"name":"lab"},"transform":[{"filter":"datum.p==0"}],"mark":{"type":"text","text":"x","fontStyle":"italic","fontSize":18,"align":"left","baseline":"alphabetic"},"encoding":{"x":{"field":"T","type":"quantitative"},"y":{"field":"v","type":"quantitative"}}},
  {"data":{"name":"lab"},"transform":[{"filter":"datum.p==0"}],"mark":{"type":"text","fontSize":18,"align":"left","baseline":"alphabetic","dx":15},"encoding":{"text":{"field":"b"},"x":{"field":"T","type":"quantitative"},"y":{"field":"v","type":"quantitative"}}},
  {"data":{"name":"trt"},"transform":[{"filter":"datum.p==0"}],"mark":{"type":"rule","strokeWidth":1.5,"color":"black"},"encoding":{"x":{"field":"T","type":"quantitative"},"y":{"field":"v1","type":"quantitative"},"y2":{"field":"v2"}}},
  {"data":{"name":"trt"},"transform":[{"filter":"datum.p==0"}],"mark":{"type":"point","shape":"triangle-down","filled":true,"color":"black","opacity":1,"size":45,"yOffset":-4},"encoding":{"x":{"field":"T","type":"quantitative"},"y":{"field":"v2","type":"quantitative"}}},
  {"data":{"name":"trt"},"transform":[{"filter":"datum.p==0"}],"mark":{"type":"text","text":"T","fontSize":21,"fontWeight":"bold","fontStyle":"italic","align":"right","baseline":"alphabetic","dx":3},"encoding":{"x":{"field":"T","type":"quantitative"},"y":{"field":"vt","type":"quantitative"}}},
  {"data":{"name":"trt"},"transform":[{"filter":"datum.p==0"}],"mark":{"type":"text","text":"RT","fontSize":13,"fontWeight":"bold","fontStyle":"italic","align":"left","baseline":"alphabetic","dx":3,"dy":5},"encoding":{"x":{"field":"T","type":"quantitative"},"y":{"field":"vt","type":"quantitative"}}}
 ]},
 {"data":{"name":"d"},"transform":[{"filter":"datum.p==0 && indexof(datum.s,'t')==0"}],"mark":{"type":"line","clip":true,"strokeWidth":2.5},
  "encoding":{"x":{"field":"T","type":"quantitative"},
   "y":{"field":"v","type":"quantitative","scale":{"domain":[0,3.95],"nice":false,"zero":false},"axis":{"orient":"right","values":[0,0.6,1.2,1.8,2.4,3.0,3.6],"tickCount":10,"labelOverlap":false,"format":".1f","title":"tan δ","titleX":27,"titleAngle":270,"titleAlign":"center","titleBaseline":"middle","titleFontSize":20,"titleFontStyle":"italic","titleColor":"#2244ff","domainColor":"#2244ff","tickColor":"#2244ff"}},
   "color":{"field":"s","type":"nominal"},
   "strokeDash":{"field":"s","type":"nominal","scale":{"range":[[1,0],[1,0],[1,0],[10,6],[10,6],[10,6]]}}}}
],"resolve":{"scale":{"y":"independent"}}},

{"width":320,"height":152,"layer":[
 {"layer":[
  {"data":{"name":"d"},"transform":[{"filter":"datum.p==1 && indexof(datum.s,'e')==0"}],"mark":{"type":"line","clip":true,"strokeWidth":2.5},
   "encoding":{"x":{"field":"T","type":"quantitative","scale":{"domain":[25,500],"nice":false},"axis":{"values":[100,200,300,400,500],"tickCount":10,"title":"Temperature (℃)","labelOverlap":false}},
    "y":{"field":"v","type":"quantitative","scale":{"domain":[-1450,16600],"nice":false,"zero":false},"axis":{"values":[0,2500,5000,7500,10000,12500,15000],"tickCount":10,"labelOverlap":false,"format":"d","title":"ε′","titleX":-39,"titleAngle":270,"titleAlign":"center","titleBaseline":"middle","titleFontSize":20,"titleFontStyle":"italic"}},
    "color":{"field":"s","type":"nominal"},
    "strokeDash":{"field":"s","type":"nominal","scale":{"range":[[1,0],[1,0],[1,0],[10,6],[10,6],[10,6]]}}}},
  {"data":{"name":"lab"},"transform":[{"filter":"datum.p==1"}],"mark":{"type":"text","text":"x","fontStyle":"italic","fontSize":18,"align":"left","baseline":"alphabetic"},"encoding":{"x":{"field":"T","type":"quantitative"},"y":{"field":"v","type":"quantitative"}}},
  {"data":{"name":"lab"},"transform":[{"filter":"datum.p==1"}],"mark":{"type":"text","fontSize":18,"align":"left","baseline":"alphabetic","dx":15},"encoding":{"text":{"field":"b"},"x":{"field":"T","type":"quantitative"},"y":{"field":"v","type":"quantitative"}}},
  {"data":{"name":"trt"},"transform":[{"filter":"datum.p==1"}],"mark":{"type":"rule","strokeWidth":1.5,"color":"black"},"encoding":{"x":{"field":"T","type":"quantitative"},"y":{"field":"v1","type":"quantitative"},"y2":{"field":"v2"}}},
  {"data":{"name":"trt"},"transform":[{"filter":"datum.p==1"}],"mark":{"type":"point","shape":"triangle-down","filled":true,"color":"black","opacity":1,"size":45,"yOffset":-4},"encoding":{"x":{"field":"T","type":"quantitative"},"y":{"field":"v2","type":"quantitative"}}},
  {"data":{"name":"trt"},"transform":[{"filter":"datum.p==1"}],"mark":{"type":"text","text":"T","fontSize":21,"fontWeight":"bold","fontStyle":"italic","align":"right","baseline":"alphabetic","dx":3},"encoding":{"x":{"field":"T","type":"quantitative"},"y":{"field":"vt","type":"quantitative"}}},
  {"data":{"name":"trt"},"transform":[{"filter":"datum.p==1"}],"mark":{"type":"text","text":"RT","fontSize":13,"fontWeight":"bold","fontStyle":"italic","align":"left","baseline":"alphabetic","dx":3,"dy":5},"encoding":{"x":{"field":"T","type":"quantitative"},"y":{"field":"vt","type":"quantitative"}}}
 ]},
 {"data":{"name":"d"},"transform":[{"filter":"datum.p==1 && indexof(datum.s,'t')==0"}],"mark":{"type":"line","clip":true,"strokeWidth":2.5},
  "encoding":{"x":{"field":"T","type":"quantitative"},
   "y":{"field":"v","type":"quantitative","scale":{"domain":[0,1.5],"nice":false,"zero":false},"axis":{"orient":"right","values":[0,0.3,0.6,0.9,1.2,1.5],"tickCount":10,"labelOverlap":false,"format":".1f","title":"tan δ","titleX":27,"titleAngle":270,"titleAlign":"center","titleBaseline":"middle","titleFontSize":20,"titleFontStyle":"italic","titleColor":"#2244ff","domainColor":"#2244ff","tickColor":"#2244ff"}},
   "color":{"field":"s","type":"nominal"},
   "strokeDash":{"field":"s","type":"nominal","scale":{"range":[[1,0],[1,0],[1,0],[10,6],[10,6],[10,6]]}}}}
],"resolve":{"scale":{"y":"independent"}}},

{"width":320,"height":152,"layer":[
 {"layer":[
  {"data":{"name":"d"},"transform":[{"filter":"datum.p==2 && indexof(datum.s,'e')==0"}],"mark":{"type":"line","clip":true,"strokeWidth":2.5},
   "encoding":{"x":{"field":"T","type":"quantitative","scale":{"domain":[25,500],"nice":false},"axis":{"values":[100,200,300,400,500],"tickCount":10,"title":"Temperature (℃)","labelOverlap":false}},
    "y":{"field":"v","type":"quantitative","scale":{"domain":[-1890,25060],"nice":false,"zero":false},"axis":{"values":[0,4000,8000,12000,16000,20000,24000],"tickCount":10,"labelOverlap":false,"format":"d","title":"ε′","titleX":-39,"titleAngle":270,"titleAlign":"center","titleBaseline":"middle","titleFontSize":20,"titleFontStyle":"italic"}},
    "color":{"field":"s","type":"nominal"},
    "strokeDash":{"field":"s","type":"nominal","scale":{"range":[[1,0],[1,0],[1,0],[10,6],[10,6],[10,6]]}}}},
  {"data":{"name":"lab"},"transform":[{"filter":"datum.p==2"}],"mark":{"type":"text","text":"x","fontStyle":"italic","fontSize":18,"align":"left","baseline":"alphabetic"},"encoding":{"x":{"field":"T","type":"quantitative"},"y":{"field":"v","type":"quantitative"}}},
  {"data":{"name":"lab"},"transform":[{"filter":"datum.p==2"}],"mark":{"type":"text","fontSize":18,"align":"left","baseline":"alphabetic","dx":15},"encoding":{"text":{"field":"b"},"x":{"field":"T","type":"quantitative"},"y":{"field":"v","type":"quantitative"}}},
  {"data":{"name":"trt"},"transform":[{"filter":"datum.p==2"}],"mark":{"type":"rule","strokeWidth":1.5,"color":"black"},"encoding":{"x":{"field":"T","type":"quantitative"},"y":{"field":"v1","type":"quantitative"},"y2":{"field":"v2"}}},
  {"data":{"name":"trt"},"transform":[{"filter":"datum.p==2"}],"mark":{"type":"point","shape":"triangle-down","filled":true,"color":"black","opacity":1,"size":45,"yOffset":-4},"encoding":{"x":{"field":"T","type":"quantitative"},"y":{"field":"v2","type":"quantitative"}}},
  {"data":{"name":"trt"},"transform":[{"filter":"datum.p==2"}],"mark":{"type":"text","text":"T","fontSize":21,"fontWeight":"bold","fontStyle":"italic","align":"right","baseline":"alphabetic","dx":3},"encoding":{"x":{"field":"T","type":"quantitative"},"y":{"field":"vt","type":"quantitative"}}},
  {"data":{"name":"trt"},"transform":[{"filter":"datum.p==2"}],"mark":{"type":"text","text":"RT","fontSize":13,"fontWeight":"bold","fontStyle":"italic","align":"left","baseline":"alphabetic","dx":3,"dy":5},"encoding":{"x":{"field":"T","type":"quantitative"},"y":{"field":"vt","type":"quantitative"}}}
 ]},
 {"data":{"name":"d"},"transform":[{"filter":"datum.p==2 && indexof(datum.s,'t')==0"}],"mark":{"type":"line","clip":true,"strokeWidth":2.5},
  "encoding":{"x":{"field":"T","type":"quantitative"},
   "y":{"field":"v","type":"quantitative","scale":{"domain":[0,3],"nice":false,"zero":false},"axis":{"orient":"right","values":[0,0.5,1,1.5,2,2.5,3],"tickCount":10,"labelOverlap":false,"format":".1f","title":"tan δ","titleX":27,"titleAngle":270,"titleAlign":"center","titleBaseline":"middle","titleFontSize":20,"titleFontStyle":"italic","titleColor":"#2244ff","domainColor":"#2244ff","tickColor":"#2244ff"}},
   "color":{"field":"s","type":"nominal"},
   "strokeDash":{"field":"s","type":"nominal","scale":{"range":[[1,0],[1,0],[1,0],[10,6],[10,6],[10,6]]}}}}
],"resolve":{"scale":{"y":"independent"}}},

{"width":320,"height":152,"layer":[
 {"layer":[
  {"data":{"name":"d"},"transform":[{"filter":"datum.p==3 && indexof(datum.s,'e')==0"}],"mark":{"type":"line","clip":true,"strokeWidth":2.5},
   "encoding":{"x":{"field":"T","type":"quantitative","scale":{"domain":[25,500],"nice":false},"axis":{"values":[100,200,300,400,500],"tickCount":10,"title":"Temperature (℃)","labelOverlap":false}},
    "y":{"field":"v","type":"quantitative","scale":{"domain":[-2310,26950],"nice":false,"zero":false},"axis":{"values":[0,4000,8000,12000,16000,20000,24000],"tickCount":10,"labelOverlap":false,"format":"d","title":"ε′","titleX":-39,"titleAngle":270,"titleAlign":"center","titleBaseline":"middle","titleFontSize":20,"titleFontStyle":"italic"}},
    "color":{"field":"s","type":"nominal"},
    "strokeDash":{"field":"s","type":"nominal","scale":{"range":[[1,0],[1,0],[1,0],[10,6],[10,6],[10,6]]}}}},
  {"data":{"name":"lab"},"transform":[{"filter":"datum.p==3"}],"mark":{"type":"text","text":"x","fontStyle":"italic","fontSize":18,"align":"left","baseline":"alphabetic"},"encoding":{"x":{"field":"T","type":"quantitative"},"y":{"field":"v","type":"quantitative"}}},
  {"data":{"name":"lab"},"transform":[{"filter":"datum.p==3"}],"mark":{"type":"text","fontSize":18,"align":"left","baseline":"alphabetic","dx":15},"encoding":{"text":{"field":"b"},"x":{"field":"T","type":"quantitative"},"y":{"field":"v","type":"quantitative"}}},
  {"data":{"name":"trt"},"transform":[{"filter":"datum.p==3"}],"mark":{"type":"rule","strokeWidth":1.5,"color":"black"},"encoding":{"x":{"field":"T","type":"quantitative"},"y":{"field":"v1","type":"quantitative"},"y2":{"field":"v2"}}},
  {"data":{"name":"trt"},"transform":[{"filter":"datum.p==3"}],"mark":{"type":"point","shape":"triangle-down","filled":true,"color":"black","opacity":1,"size":45,"yOffset":-4},"encoding":{"x":{"field":"T","type":"quantitative"},"y":{"field":"v2","type":"quantitative"}}},
  {"data":{"name":"trt"},"transform":[{"filter":"datum.p==3"}],"mark":{"type":"text","text":"T","fontSize":21,"fontWeight":"bold","fontStyle":"italic","align":"right","baseline":"alphabetic","dx":3},"encoding":{"x":{"field":"T","type":"quantitative"},"y":{"field":"vt","type":"quantitative"}}},
  {"data":{"name":"trt"},"transform":[{"filter":"datum.p==3"}],"mark":{"type":"text","text":"RT","fontSize":13,"fontWeight":"bold","fontStyle":"italic","align":"left","baseline":"alphabetic","dx":3,"dy":5},"encoding":{"x":{"field":"T","type":"quantitative"},"y":{"field":"vt","type":"quantitative"}}}
 ]},
 {"data":{"name":"d"},"transform":[{"filter":"datum.p==3 && indexof(datum.s,'t')==0"}],"mark":{"type":"line","clip":true,"strokeWidth":2.5},
  "encoding":{"x":{"field":"T","type":"quantitative"},
   "y":{"field":"v","type":"quantitative","scale":{"domain":[0,3],"nice":false,"zero":false},"axis":{"orient":"right","values":[0,0.5,1,1.5,2,2.5,3],"tickCount":10,"labelOverlap":false,"format":".1f","title":"tan δ","titleX":27,"titleAngle":270,"titleAlign":"center","titleBaseline":"middle","titleFontSize":20,"titleFontStyle":"italic","titleColor":"#2244ff","domainColor":"#2244ff","tickColor":"#2244ff"}},
   "color":{"field":"s","type":"nominal"},
   "strokeDash":{"field":"s","type":"nominal","scale":{"range":[[1,0],[1,0],[1,0],[10,6],[10,6],[10,6]]}}}}
],"resolve":{"scale":{"y":"independent"}}},

{"width":320,"height":152,"layer":[
 {"layer":[
  {"data":{"name":"d"},"transform":[{"filter":"datum.p==4 && indexof(datum.s,'e')==0"}],"mark":{"type":"line","clip":true,"strokeWidth":2.5},
   "encoding":{"x":{"field":"T","type":"quantitative","scale":{"domain":[25,500],"nice":false},"axis":{"values":[100,200,300,400,500],"tickCount":10,"title":"Temperature (℃)","labelOverlap":false}},
    "y":{"field":"v","type":"quantitative","scale":{"domain":[-800,13900],"nice":false,"zero":false},"axis":{"values":[0,2300,4600,6900,9200,11500,13800],"tickCount":10,"labelOverlap":false,"format":"d","title":"ε′","titleX":-39,"titleAngle":270,"titleAlign":"center","titleBaseline":"middle","titleFontSize":20,"titleFontStyle":"italic"}},
    "color":{"field":"s","type":"nominal"},
    "strokeDash":{"field":"s","type":"nominal","scale":{"range":[[1,0],[1,0],[1,0],[10,6],[10,6],[10,6]]}}}},
  {"data":{"name":"lab"},"transform":[{"filter":"datum.p==4"}],"mark":{"type":"text","text":"x","fontStyle":"italic","fontSize":18,"align":"left","baseline":"alphabetic"},"encoding":{"x":{"field":"T","type":"quantitative"},"y":{"field":"v","type":"quantitative"}}},
  {"data":{"name":"lab"},"transform":[{"filter":"datum.p==4"}],"mark":{"type":"text","fontSize":18,"align":"left","baseline":"alphabetic","dx":15},"encoding":{"text":{"field":"b"},"x":{"field":"T","type":"quantitative"},"y":{"field":"v","type":"quantitative"}}},
  {"data":{"name":"trt"},"transform":[{"filter":"datum.p==4"}],"mark":{"type":"rule","strokeWidth":1.5,"color":"black"},"encoding":{"x":{"field":"T","type":"quantitative"},"y":{"field":"v1","type":"quantitative"},"y2":{"field":"v2"}}},
  {"data":{"name":"trt"},"transform":[{"filter":"datum.p==4"}],"mark":{"type":"point","shape":"triangle-down","filled":true,"color":"black","opacity":1,"size":45,"yOffset":-4},"encoding":{"x":{"field":"T","type":"quantitative"},"y":{"field":"v2","type":"quantitative"}}},
  {"data":{"name":"trt"},"transform":[{"filter":"datum.p==4"}],"mark":{"type":"text","text":"T","fontSize":21,"fontWeight":"bold","fontStyle":"italic","align":"right","baseline":"alphabetic","dx":3},"encoding":{"x":{"field":"T","type":"quantitative"},"y":{"field":"vt","type":"quantitative"}}},
  {"data":{"name":"trt"},"transform":[{"filter":"datum.p==4"}],"mark":{"type":"text","text":"RT","fontSize":13,"fontWeight":"bold","fontStyle":"italic","align":"left","baseline":"alphabetic","dx":3,"dy":5},"encoding":{"x":{"field":"T","type":"quantitative"},"y":{"field":"vt","type":"quantitative"}}}
 ]},
 {"data":{"name":"d"},"transform":[{"filter":"datum.p==4 && indexof(datum.s,'t')==0"}],"mark":{"type":"line","clip":true,"strokeWidth":2.5},
  "encoding":{"x":{"field":"T","type":"quantitative"},
   "y":{"field":"v","type":"quantitative","scale":{"domain":[0,1.5],"nice":false,"zero":false},"axis":{"orient":"right","values":[0,0.3,0.6,0.9,1.2,1.5],"tickCount":10,"labelOverlap":false,"format":".1f","title":"tan δ","titleX":27,"titleAngle":270,"titleAlign":"center","titleBaseline":"middle","titleFontSize":20,"titleFontStyle":"italic","titleColor":"#2244ff","domainColor":"#2244ff","tickColor":"#2244ff"}},
   "color":{"field":"s","type":"nominal"},
   "strokeDash":{"field":"s","type":"nominal","scale":{"range":[[1,0],[1,0],[1,0],[10,6],[10,6],[10,6]]}}}}
],"resolve":{"scale":{"y":"independent"}}},

{"width":320,"height":152,"layer":[
 {"layer":[
  {"data":{"name":"d"},"transform":[{"filter":"datum.p==5 && indexof(datum.s,'e')==0"}],"mark":{"type":"line","clip":true,"strokeWidth":2.5},
   "encoding":{"x":{"field":"T","type":"quantitative","scale":{"domain":[25,500],"nice":false},"axis":{"values":[100,200,300,400,500],"tickCount":10,"title":"Temperature (℃)","labelOverlap":false}},
    "y":{"field":"v","type":"quantitative","scale":{"domain":[-1770,27230],"nice":false,"zero":false},"axis":{"values":[0,4000,8000,12000,16000,20000,24000],"tickCount":10,"labelOverlap":false,"format":"d","title":"ε′","titleX":-39,"titleAngle":270,"titleAlign":"center","titleBaseline":"middle","titleFontSize":20,"titleFontStyle":"italic"}},
    "color":{"field":"s","type":"nominal"},
    "strokeDash":{"field":"s","type":"nominal","scale":{"range":[[1,0],[1,0],[1,0],[10,6],[10,6],[10,6]]}}}},
  {"data":{"name":"lab"},"transform":[{"filter":"datum.p==5"}],"mark":{"type":"text","text":"x","fontStyle":"italic","fontSize":18,"align":"left","baseline":"alphabetic"},"encoding":{"x":{"field":"T","type":"quantitative"},"y":{"field":"v","type":"quantitative"}}},
  {"data":{"name":"lab"},"transform":[{"filter":"datum.p==5"}],"mark":{"type":"text","fontSize":18,"align":"left","baseline":"alphabetic","dx":15},"encoding":{"text":{"field":"b"},"x":{"field":"T","type":"quantitative"},"y":{"field":"v","type":"quantitative"}}}
 ]},
 {"data":{"name":"d"},"transform":[{"filter":"datum.p==5 && indexof(datum.s,'t')==0"}],"mark":{"type":"line","clip":true,"strokeWidth":2.5},
  "encoding":{"x":{"field":"T","type":"quantitative"},
   "y":{"field":"v","type":"quantitative","scale":{"domain":[0,1.5],"nice":false,"zero":false},"axis":{"orient":"right","values":[0,0.3,0.6,0.9,1.2,1.5],"tickCount":10,"labelOverlap":false,"format":".1f","title":"tan δ","titleX":27,"titleAngle":270,"titleAlign":"center","titleBaseline":"middle","titleFontSize":20,"titleFontStyle":"italic","titleColor":"#2244ff","domainColor":"#2244ff","tickColor":"#2244ff"}},
   "color":{"field":"s","type":"nominal"},
   "strokeDash":{"field":"s","type":"nominal","scale":{"range":[[1,0],[1,0],[1,0],[10,6],[10,6],[10,6]]}}}}
],"resolve":{"scale":{"y":"independent"}}},

{"width":320,"height":152,"layer":[
 {"layer":[
  {"data":{"name":"d"},"transform":[{"filter":"datum.p==6 && indexof(datum.s,'e')==0"}],"mark":{"type":"line","clip":true,"strokeWidth":2.5},
   "encoding":{"x":{"field":"T","type":"quantitative","scale":{"domain":[25,500],"nice":false},"axis":{"values":[100,200,300,400,500],"tickCount":10,"title":"Temperature (℃)","labelOverlap":false}},
    "y":{"field":"v","type":"quantitative","scale":{"domain":[0,8350],"nice":false,"zero":false},"axis":{"values":[0,1300,2600,3900,5200,6500,7800],"tickCount":10,"labelOverlap":false,"format":"d","title":"ε′","titleX":-39,"titleAngle":270,"titleAlign":"center","titleBaseline":"middle","titleFontSize":20,"titleFontStyle":"italic"}},
    "color":{"field":"s","type":"nominal"},
    "strokeDash":{"field":"s","type":"nominal","scale":{"range":[[1,0],[1,0],[1,0],[10,6],[10,6],[10,6]]}}}},
  {"data":{"name":"lab"},"transform":[{"filter":"datum.p==6"}],"mark":{"type":"text","text":"x","fontStyle":"italic","fontSize":18,"align":"left","baseline":"alphabetic"},"encoding":{"x":{"field":"T","type":"quantitative"},"y":{"field":"v","type":"quantitative"}}},
  {"data":{"name":"lab"},"transform":[{"filter":"datum.p==6"}],"mark":{"type":"text","fontSize":18,"align":"left","baseline":"alphabetic","dx":15},"encoding":{"text":{"field":"b"},"x":{"field":"T","type":"quantitative"},"y":{"field":"v","type":"quantitative"}}}
 ]},
 {"data":{"name":"d"},"transform":[{"filter":"datum.p==6 && indexof(datum.s,'t')==0"}],"mark":{"type":"line","clip":true,"strokeWidth":2.5},
  "encoding":{"x":{"field":"T","type":"quantitative"},
   "y":{"field":"v","type":"quantitative","scale":{"domain":[0,3],"nice":false,"zero":false},"axis":{"orient":"right","values":[0,0.5,1,1.5,2,2.5,3],"tickCount":10,"labelOverlap":false,"format":".1f","title":"tan δ","titleX":27,"titleAngle":270,"titleAlign":"center","titleBaseline":"middle","titleFontSize":20,"titleColor":"#2244ff","domainColor":"#2244ff","tickColor":"#2244ff"}},
   "color":{"field":"s","type":"nominal"},
   "strokeDash":{"field":"s","type":"nominal","scale":{"range":[[1,0],[1,0],[1,0],[10,6],[10,6],[10,6]]}}}},
 {"data":{"values":[]},"mark":{"type":"point"},
  "encoding":{"shape":{"field":"z","type":"nominal","scale":{"domain":["e10","e100","e1k","t10","t100","t1k"],"range":["stroke","stroke","stroke","stroke","stroke","stroke"]},
   "legend":{"title":null,"orient":"none","legendX":463,"legendY":567,"direction":"vertical","fillColor":"black","strokeColor":"black","padding":11,"symbolType":"stroke","symbolSize":37249,"symbolStrokeWidth":2.5,"symbolStrokeColor":"black","clipHeight":19,"rowPadding":3,"labelFontSize":19,"labelFont":"Liberation Sans","labelColor":"black","labelOffset":0,"labelLimit":300,"zindex":1,"labelExpr":"''"}}}}
],"resolve":{"scale":{"y":"independent"}}}
]
}
